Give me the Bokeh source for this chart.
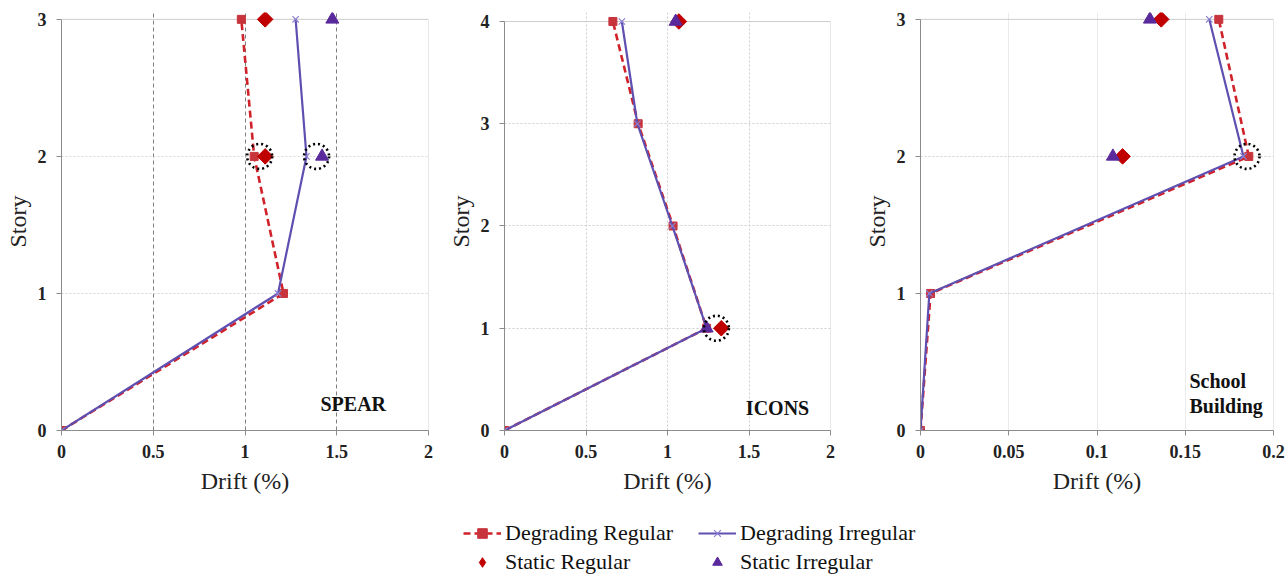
import math
from bokeh.plotting import figure
from bokeh.models import Range1d, FixedTicker, Legend, LegendItem
from bokeh.layouts import row, column
from bokeh.core.properties import value
from bokeh.embed import file_html
from bokeh.resources import INLINE

# ---------------- data ----------------
spear_story = [0, 1, 2, 3]
spear_deg_reg = [0, 1.21, 1.05, 0.98]
spear_deg_irr = [0, 1.18, 1.335, 1.276]
spear_stat_story = [2, 3]
spear_stat_reg = [1.11, 1.11]
spear_stat_irr = [1.42, 1.476]
spear_hl_x = [1.08, 1.39]
spear_hl_y = [2, 2]

icons_story = [0, 1, 2, 3, 4]
icons_deg_reg = [0, 1.24, 1.034, 0.82, 0.665]
icons_deg_irr = [0, 1.24, 1.03, 0.815, 0.72]
icons_stat_story = [1, 4]
icons_stat_reg = [1.33, 1.07]
icons_stat_irr = [1.24, 1.05]
icons_hl_x = [1.30]
icons_hl_y = [1]

school_story = [0, 1, 2, 3]
school_deg_reg = [0, 0.0057, 0.186, 0.169]
school_deg_irr = [0, 0.005, 0.183, 0.1636]
school_stat_story = [2, 3]
school_stat_reg = [0.1145, 0.1364]
school_stat_irr = [0.109, 0.130]
school_hl_x = [0.185]
school_hl_y = [2]

drift_ticks_12 = [0, 0.5, 1, 1.5, 2]
drift_labels_12 = ["0", "0.5", "1", "1.5", "2"]
drift_ticks_3 = [0, 0.05, 0.1, 0.15, 0.2]
drift_labels_3 = ["0", "0.05", "0.1", "0.15", "0.2"]

legend_labels = ["Degrading Regular", "Degrading Irregular", "Static Regular", "Static Irregular"]

# ---------------- style ----------------
FONT = "Liberation Serif"
RED = "#d0222a"
RED_SQ = "#c8343c"
PURPLE = "#5e4fb0"
PURPLE_X = "#8b7fd0"
TRI = "#5a2a9c"
DIA = "#c00000"
FRAME = "#cfcfcf"
ROT = math.pi / 4


def make_panel(width, height, left, right, top, bottom, xmax, ymax, ypad, xticks, xlabels,
               story, deg_reg, deg_irr, stat_story, stat_reg, stat_irr, hl_x, hl_y,
               vgrid, hgrid):
    # y range is padded a little above the top story so that top markers are not clipped
    p = figure(width=width, height=height, output_backend="svg", toolbar_location=None,
               x_range=Range1d(0, xmax), y_range=Range1d(0, ymax + ypad),
               min_border_left=left, min_border_right=right,
               min_border_top=top, min_border_bottom=bottom)
    p.background_fill_color = "white"
    p.border_fill_color = "white"
    p.outline_line_color = None

    p.xaxis.ticker = FixedTicker(ticks=xticks)
    p.xaxis.major_label_overrides = dict(zip(xticks, xlabels))
    p.yaxis.ticker = FixedTicker(ticks=list(range(0, ymax + 1)))
    p.yaxis.bounds = (0, ymax)
    for ax in (p.xaxis, p.yaxis):
        ax.axis_line_color = "#8c8c8c"
        ax.major_tick_line_color = "#8c8c8c"
        ax.major_tick_out = 5
        ax.major_tick_in = 0
        ax.minor_tick_line_color = None
        ax.major_label_text_font = FONT
        ax.major_label_text_font_style = "bold"
        ax.major_label_text_font_size = "18px"
        ax.major_label_text_color = "#222222"
        ax.axis_label_text_font = FONT
        ax.axis_label_text_font_style = "normal"
        ax.axis_label_text_font_size = "24px"
        ax.axis_label_text_color = "#222222"
    p.xaxis.axis_label = "Drift (%)"
    p.yaxis.axis_label = "Story"
    p.xaxis.major_label_standoff = 9
    p.yaxis.major_label_standoff = 10
    p.xaxis.axis_label_standoff = 7
    p.yaxis.axis_label_standoff = 4

    p.xgrid.grid_line_color = vgrid[0]
    p.xgrid.grid_line_dash = vgrid[1]
    p.xgrid.grid_line_width = 1
    p.ygrid.grid_line_color = hgrid[0]
    p.ygrid.grid_line_dash = hgrid[1]
    p.ygrid.grid_line_width = 1

    # light frame: top edge at the top story, right edge at the x-range end
    p.segment(x0=[0, xmax], y0=[ymax, 0], x1=[xmax, xmax], y1=[ymax, ymax],
              line_color=FRAME, line_width=1)

    p.line(deg_reg, story, line_color=RED, line_width=2.6, line_dash="7 4")
    p.scatter(deg_reg, story, marker="square", size=8, fill_color=RED_SQ, line_color=RED_SQ)
    p.line(deg_irr, story, line_color=PURPLE, line_width=2.2)
    p.scatter(deg_irr, story, marker="x", size=9, line_color=PURPLE_X, line_width=1.2)
    p.scatter(stat_reg, stat_story, marker="square", angle=ROT, size=11,
              fill_color=DIA, line_color=DIA)
    p.scatter(stat_irr, stat_story, marker="triangle", size=13, fill_color=TRI, line_color=TRI)
    p.scatter(hl_x, hl_y, marker="circle", size=25, fill_color=None, line_color="black",
              line_width=2.6, line_dash="2 3")
    return p


H = 510
TOP = 12
BOT = H - 430
p1 = make_panel(440, H, 61, 12, TOP, BOT, 2, 3, 0.05, drift_ticks_12, drift_labels_12,
                spear_story, spear_deg_reg, spear_deg_irr, spear_stat_story, spear_stat_reg,
                spear_stat_irr, spear_hl_x, spear_hl_y,
                ("#7f7f7f", "4 3"), ("#d6d6d6", "2 2"))
p1.text(x=[1.59], y=[0.19], text=["SPEAR"], text_font=value(FONT), text_font_style="bold",
        text_font_size="20px", text_align="center", text_baseline="middle", text_color="#111111")

p2 = make_panel(420, H, 64, 30, TOP, BOT, 2, 4, 0.088, drift_ticks_12, drift_labels_12,
                icons_story, icons_deg_reg, icons_deg_irr, icons_stat_story, icons_stat_reg,
                icons_stat_irr, icons_hl_x, icons_hl_y,
                ("#cfcfcf", "2 2"), ("#cfcfcf", "2 2"))
p2.text(x=[1.675], y=[0.22], text=["ICONS"], text_font=value(FONT), text_font_style="bold",
        text_font_size="20px", text_align="center", text_baseline="middle", text_color="#111111")

p3 = make_panel(427, H, 60, 14, TOP, BOT, 0.2, 3, 0.05, drift_ticks_3, drift_labels_3,
                school_story, school_deg_reg, school_deg_irr, school_stat_story, school_stat_reg,
                school_stat_irr, school_hl_x, school_hl_y,
                ("#ebebeb", "solid"), ("#cfcfcf", "2 2"))
p3.text(x=[0.1524, 0.1524], y=[0.364, 0.18], text=["School", "Building"], text_font=value(FONT),
        text_font_style="bold", text_font_size="20px", text_align="left", text_baseline="middle",
        text_color="#111111")

# ---------------- legend ----------------
lf = figure(width=1287, height=575 - H, output_backend="svg", toolbar_location=None,
            x_range=Range1d(0, 1), y_range=Range1d(0, 1), min_border=0)
lf.axis.visible = False
lf.grid.visible = False
lf.outline_line_color = None
off = [-5]
g1 = lf.line(off, off, line_color=RED, line_width=2.6, line_dash="7 4")
g2 = lf.scatter(off, off, marker="square", size=8, fill_color=RED_SQ, line_color=RED_SQ)
g3 = lf.line(off, off, line_color=PURPLE, line_width=2.2)
g4 = lf.scatter(off, off, marker="x", size=9, line_color=PURPLE_X, line_width=1.2)
g5 = lf.scatter(off, off, marker="diamond", size=16, fill_color=DIA, line_color=DIA)
g6 = lf.scatter(off, off, marker="triangle", size=13, fill_color=TRI, line_color=TRI)
legend = Legend(items=[
    LegendItem(label=legend_labels[0], renderers=[g1, g2]),
    LegendItem(label=legend_labels[2], renderers=[g5]),
    LegendItem(label=legend_labels[1], renderers=[g3, g4]),
    LegendItem(label=legend_labels[3], renderers=[g6]),
], ncols=2, location=(463, 0))
legend.label_text_font = FONT
legend.label_text_font_size = "22px"
legend.label_text_color = "#111111"
legend.glyph_width = 38
legend.glyph_height = 24
legend.label_height = 24
legend.label_width = 190
legend.label_standoff = 4
legend.spacing = 3
legend.padding = 1
legend.margin = 0
legend.border_line_color = None
legend.background_fill_alpha = 0
lf.add_layout(legend)

layout = column(row(p1, p2, p3), lf)
open("out.html", "w").write(file_html(layout, INLINE))
